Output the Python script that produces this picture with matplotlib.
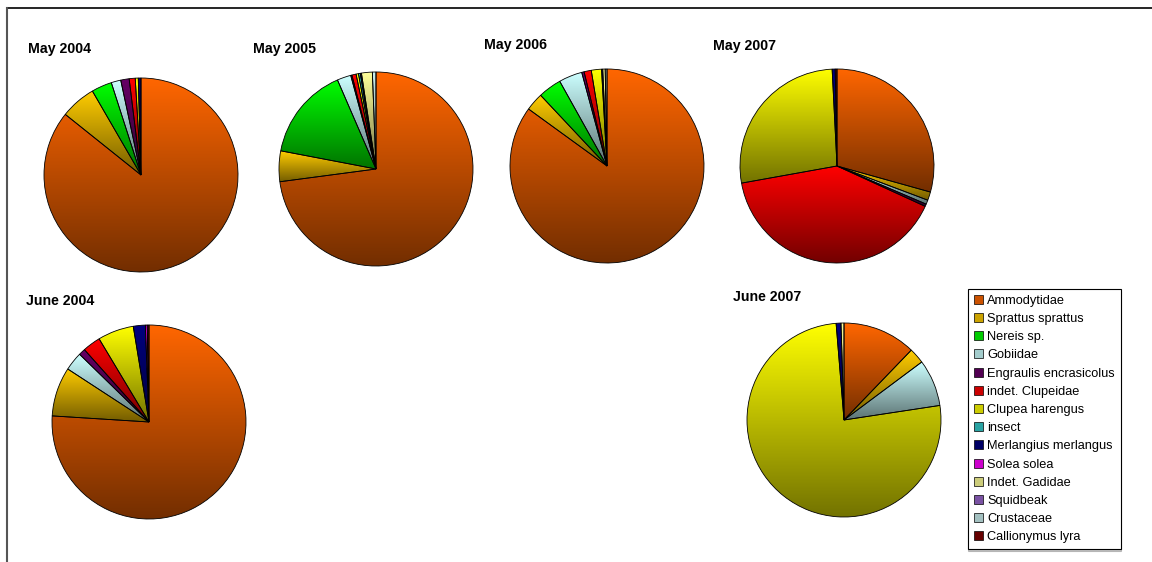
import numpy as np
import matplotlib
matplotlib.use('Agg')
from matplotlib import pyplot as plt
from matplotlib.colors import to_rgb
from matplotlib.patches import Patch
from matplotlib.lines import Line2D

plt.rcParams['font.family'] = ['Liberation Sans', 'DejaVu Sans']

# prey categories (legend order)
species = ['Ammodytidae', 'Sprattus sprattus', 'Nereis sp.', 'Gobiidae',
           'Engraulis encrasicolus', 'indet. Clupeidae', 'Clupea harengus',
           'insect', 'Merlangius merlangus', 'Solea solea', 'Indet. Gadidae',
           'Squidbeak', 'Crustaceae', 'Callionymus lyra']
colors = ['#FF6600', '#FFCC00', '#00FF00', '#CCFFFF', '#660066', '#FF0000',
          '#FFFF00', '#33CCCC', '#000080', '#FF00FF', '#FFFF99', '#9966CC',
          '#CCF0F0', '#800000']

# diet composition (%) per sample
may2004 = [85.7, 5.9, 3.4, 1.6, 1.4, 1.0, 0.5, 0, 0.45, 0, 0, 0, 0, 0]
may2005 = [72.9, 5.1, 15.5, 2.3, 0.2, 0.7, 0.4, 0.3, 0.2, 0, 1.8, 0, 0.6, 0]
may2006 = [85.0, 3.0, 3.9, 3.9, 0.4, 1.2, 1.7, 0, 0.2, 0, 0.4, 0, 0.3, 0]
may2007 = [29.3, 1.4, 0, 0.7, 0.4, 40.3, 27.0, 0, 0.5, 0, 0, 0, 0, 0.3]
june2004 = [76.0, 8.2, 0, 3.1, 1.1, 3.0, 6.0, 0, 2.0, 0.3, 0, 0, 0, 0.3]
june2007 = [12.2, 2.6, 0, 7.8, 0, 0, 76.1, 0, 0.8, 0, 0.5, 0, 0, 0]

samples = ['May 2004', 'May 2005', 'May 2006', 'May 2007', 'June 2004', 'June 2007']
values = [may2004, may2005, may2006, may2007, june2004, june2007]

W, H = 1152, 562
fig = plt.figure(figsize=(W / 100, H / 100), dpi=100)

# pie centre (px), title left/baseline (px)
centres = [(141, 175), (376, 169), (607, 166), (837, 166), (149, 422), (844, 420)]
titles = [(28, 53), (253, 53), (484, 49), (713, 50), (26, 305), (733, 301)]
R = 100  # axes half size px; pie radius 0.97 -> ~97 px


def shade_pie(ax, wedges, cols):
    # vertical gradient per slice, bright on top, dark below
    t = np.linspace(0, 1, 128)[:, None]
    for w, c in zip(wedges, cols):
        ext = w.get_path().get_extents()
        rgb = np.array(to_rgb(c))
        grad = rgb[None, :] * (1 - 0.55 * t)
        img = ax.imshow(grad[:, None, :], extent=(ext.x0, ext.x1, ext.y0, ext.y1),
                        origin='upper', aspect='auto', zorder=1, interpolation='bilinear')
        img.set_clip_path(w)
        w.set_facecolor('none')
        w.set_zorder(2)


for name, vals, (cx, cy), (tx, ty) in zip(samples, values, centres, titles):
    ax = fig.add_axes([(cx - R) / W, 1 - (cy + R) / H, 2 * R / W, 2 * R / H])
    v = [x for x in vals if x > 0]
    c = [col for x, col in zip(vals, colors) if x > 0]
    wedges, _ = ax.pie(v, colors=c, startangle=90, counterclock=False, radius=0.97,
                       wedgeprops=dict(edgecolor='black', linewidth=0.6))
    shade_pie(ax, wedges, c)
    ax.set_xlim(-1, 1)
    ax.set_ylim(-1, 1)
    ax.set_aspect('auto')
    ax.axis('off')
    fig.text(tx / W, 1 - ty / H, name, fontsize=10.2, fontweight='bold', va='baseline', ha='left')

handles = [Patch(facecolor=tuple(np.array(to_rgb(c)) * 0.8), edgecolor='black', linewidth=0.5)
           for c in colors]
leg = fig.legend(handles, species, loc='upper left', bbox_to_anchor=(968 / W, 1 - 289 / H),
                 borderaxespad=0, fontsize=9.2, labelspacing=0.485, handlelength=0.7,
                 handleheight=0.7, handletextpad=0.35, borderpad=0.45, fancybox=False,
                 frameon=True, edgecolor='black', framealpha=1,
                 shadow={'ox': 0, 'oy': -1.5, 'color': '0.55'})
leg.get_frame().set_linewidth(0.8)

# outer frame lines
fig.add_artist(Line2D([7 / W, 1], [1 - 8 / H, 1 - 8 / H], color='black', linewidth=1.2))
fig.add_artist(Line2D([7 / W, 7 / W], [0, 1 - 8 / H], color='#555555', linewidth=1.5))

fig.savefig('out.png', dpi=100)
